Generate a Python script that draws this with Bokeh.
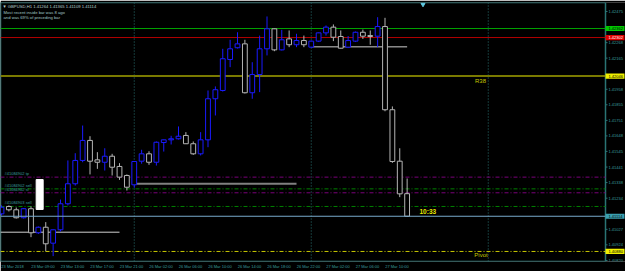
from bokeh.plotting import figure
from bokeh.models import Range1d, FixedTicker, CustomJSTickFormatter, Span
from bokeh.core.properties import value
from bokeh.embed import file_html
from bokeh.resources import INLINE

# ---------------- data ----------------
header = "\u25bc GBPUSD,H1  1.41264 1.41365 1.41109 1.41114"
info_lines = ["Most recent inside bar was 8 ago", "and was 69% of preceding bar"]

opens = [1.41130, 1.41179, 1.41157, 1.41104, 1.41164, 1.41004, 1.41041, 1.40935, 1.41024, 1.41197,
         1.41330, 1.41485, 1.41618, 1.41489, 1.41473, 1.41513, 1.41445, 1.41385, 1.41323, 1.41480,
         1.41529, 1.41473, 1.41604, 1.41622, 1.41629, 1.41651, 1.41596, 1.41529, 1.41622, 1.41895,
         1.41950, 1.42156, 1.42234, 1.42260, 1.41935, 1.42056, 1.42227, 1.42360, 1.42220, 1.42293,
         1.42254, 1.42282, 1.42238, 1.42278, 1.42333, 1.42371, 1.42309, 1.42238, 1.42278, 1.42337,
         1.42315, 1.42311, 1.42375, 1.41822, 1.41480, 1.41264]
highs = [1.41186, 1.41186, 1.41172, 1.41169, 1.41179, 1.41046, 1.41075, 1.41026, 1.41225, 1.41485,
         1.41533, 1.41717, 1.41646, 1.41540, 1.41566, 1.41529, 1.41467, 1.41392, 1.41478, 1.41556,
         1.41546, 1.41611, 1.41624, 1.41649, 1.41711, 1.41673, 1.41611, 1.41673, 1.41950, 1.41977,
         1.42227, 1.42287, 1.42337, 1.42287, 1.42138, 1.42315, 1.42442, 1.42362, 1.42353, 1.42349,
         1.42327, 1.42315, 1.42282, 1.42335, 1.42382, 1.42389, 1.42349, 1.42312, 1.42342, 1.42355,
         1.42349, 1.42437, 1.42433, 1.41844, 1.41566, 1.41365]
lows = [1.41119, 1.41146, 1.41099, 1.41099, 1.40975, 1.40996, 1.40882, 1.40849, 1.41013, 1.41186,
        1.41318, 1.41473, 1.41392, 1.41429, 1.41418, 1.41385, 1.41356, 1.41285, 1.41303, 1.41463,
        1.41456, 1.41451, 1.41544, 1.41591, 1.41624, 1.41594, 1.41522, 1.41518, 1.41573, 1.41784,
        1.41943, 1.42105, 1.42229, 1.41930, 1.41895, 1.41939, 1.42183, 1.42211, 1.42216, 1.42238,
        1.42238, 1.42238, 1.42232, 1.42272, 1.42315, 1.42278, 1.42229, 1.42232, 1.42272, 1.42293,
        1.42254, 1.42238, 1.41812, 1.41469, 1.41241, 1.41109]
closes = [1.41174, 1.41157, 1.41104, 1.41164, 1.41004, 1.41041, 1.40931, 1.41024, 1.41197, 1.41330,
          1.41485, 1.41618, 1.41480, 1.41473, 1.41513, 1.41440, 1.41374, 1.41307, 1.41478, 1.41529,
          1.41473, 1.41606, 1.41622, 1.41629, 1.41646, 1.41596, 1.41529, 1.41622, 1.41895, 1.41955,
          1.42161, 1.42227, 1.42260, 1.41935, 1.42056, 1.42227, 1.42360, 1.42220, 1.42287, 1.42254,
          1.42282, 1.42254, 1.42278, 1.42333, 1.42371, 1.42304, 1.42231, 1.42282, 1.42337, 1.42311,
          1.42309, 1.42375, 1.41822, 1.41478, 1.41263, 1.41114]

time_label_bars = [0, 4, 8, 12, 16, 20, 24, 28, 32, 36, 40, 44, 48, 52]
time_labels = ["23 Mar 2018", "23 Mar 09:00", "23 Mar 13:00", "23 Mar 17:00", "23 Mar 21:00",
               "26 Mar 02:00", "26 Mar 06:00", "26 Mar 10:00", "26 Mar 14:00", "26 Mar 18:00",
               "26 Mar 22:00", "27 Mar 02:00", "27 Mar 06:00", "27 Mar 10:00"]
day_separator_bars = [18, 42, 66]

price_ticks = [1.42475, 1.42268, 1.42165, 1.41958, 1.41855, 1.41751, 1.41648, 1.41545,
               1.41441, 1.41338, 1.41234, 1.41027, 1.40924, 1.40820]

green_level = 1.42362
red_level = 1.42302
r38_level = 1.42046
bid_level = 1.41114
pivot_level = 1.40880

order_levels = [1.41374, 1.41296, 1.41270, 1.41179]
order_texts = ["#41084902 tp", "#41084902 sell", "#41084902 sl", "#41084903 sell"]
order_kinds = ["stop", "open", "stop", "open"]

day_open_levels = [1.41008, 1.41330, 1.42240]
day_open_from = [-0.14, 18.0, 42.0]
day_open_to = [16.0, 40.0, 55.0]

marker_box_bars = [4.7, 5.65]
marker_box_prices = [1.41159, 1.41358]

timer_text = "10:33"

# ---------------- styling / layout ----------------
BG = "black"
FRAME = "#2a7474"
TXT = "#3a9e9e"
BULL = "#1a1aff"
BEAR = "#b4b4b4"
PX_PER_BAR = 7.375
PRICE_PER_PX = 0.00006647
REF_PRICE, REF_PY = 1.42475, 11.0
FONT = "Liberation Sans"
AXIS_PX = 605


def py_to_price(py):
    return REF_PRICE - (py - REF_PY) * PRICE_PER_PX


def px_to_bar(px):
    return (px - 1.0) / PX_PER_BAR


X0, XA = px_to_bar(0), px_to_bar(AXIS_PX)
Y_BOT, Y_TOP = py_to_price(261), py_to_price(2)

p = figure(width=625, height=271, output_backend="svg", toolbar_location=None,
           x_range=Range1d(X0, px_to_bar(625)),
           y_range=Range1d(Y_BOT, Y_TOP),
           y_axis_location=None,
           min_border_left=0, min_border_right=0, min_border_top=2, min_border_bottom=10,
           background_fill_color=BG, border_fill_color=BG, outline_line_color=None)
p.grid.visible = False

# bottom time axis (labels start at the bar, MT4 style)
label_shift = [len(t) * 2.07 / 2 / PX_PER_BAR for t in time_labels]
tick_pos = [round((b + s) * 8) / 8 for b, s in zip(time_label_bars, label_shift)]
xa = p.xaxis[0]
xa.ticker = FixedTicker(ticks=tick_pos)
xa.formatter = CustomJSTickFormatter(args=dict(tks=tick_pos, names=time_labels), code="""
const i = tks.findIndex(t => Math.abs(t - tick) < 1e-6);
return i >= 0 ? names[i] : "";
""")
xa.axis_line_color = None
xa.major_tick_out = 0
xa.major_tick_in = 0
xa.minor_tick_out = 0
xa.minor_tick_in = 0
xa.major_label_standoff = 2
xa.major_label_text_color = TXT
xa.major_label_text_font_size = "4px"
xa.major_label_text_font = FONT

# chart frame (MT4 window border) and price scale line
p.segment(x0=[X0, X0, X0, XA], y0=[Y_TOP, Y_BOT, Y_BOT, Y_BOT],
          x1=[XA, XA, X0, XA], y1=[Y_TOP, Y_BOT, Y_TOP, Y_TOP], line_color=FRAME, line_width=1.5)

# day separators
p.segment(x0=day_separator_bars, y0=[Y_BOT] * len(day_separator_bars), x1=day_separator_bars,
          y1=[Y_TOP] * len(day_separator_bars), line_color=FRAME, line_width=1, line_dash="1 2")


def hline(level, color, width=1, dash="solid"):
    p.segment(x0=[X0], y0=[level], x1=[XA], y1=[level], line_color=color, line_width=width, line_dash=dash)


hline(green_level, "#00a000")
hline(red_level, "#b00000")
hline(r38_level, "#7a7a00", 2)
hline(pivot_level, "#c8c800", 1, "4 2 1 2")
for lvl, kind in zip(order_levels, order_kinds):
    hline(lvl, "#7a007a" if kind == "stop" else "#008000", 1, "4 2 1 2")

# daily open lines
for lvl, a, b in zip(day_open_levels, day_open_from, day_open_to):
    w = 2 if a > 10 and b < 50 else 1
    col = "#808080" if w == 2 else "#d0d0d0"
    p.segment(x0=[a], y0=[lvl], x1=[b], y1=[lvl], line_color=col, line_width=w)

# marker box
p.quad(left=[marker_box_bars[0]], right=[marker_box_bars[1]], bottom=[marker_box_prices[0]],
       top=[marker_box_prices[1]], fill_color="white", line_color="white")

# candles
idx = list(range(len(opens)))
cols = [BULL if c >= o else BEAR for o, c in zip(opens, closes)]
p.segment(x0=idx, y0=lows, x1=idx, y1=highs, line_color=cols, line_width=1)
p.vbar(x=idx, width=0.65, top=[max(o, c) for o, c in zip(opens, closes)],
       bottom=[min(o, c) for o, c in zip(opens, closes)], fill_color=BG, line_color=cols, line_width=1)

# bid line
hline(bid_level, "#78aacc")

# order texts
for lvl, t in zip(order_levels, order_texts):
    p.text(x=[px_to_bar(4)], y=[lvl + 1.0 * PRICE_PER_PX], text=[t], text_color=TXT,
           text_font=value(FONT), text_font_size="4px", text_baseline="bottom", text_align="left")

# header texts
p.text(x=[px_to_bar(2)], y=[py_to_price(6)], text=[header], text_color="#b8d0d0",
       text_font=value(FONT), text_font_size="4.2px", text_baseline="middle", text_align="left")
for i, t in enumerate(info_lines):
    p.text(x=[px_to_bar(3)], y=[py_to_price(11.7 + 5 * i)], text=[t], text_color="#a0c8c8",
           text_font=value(FONT), text_font_size="4.2px", text_baseline="middle", text_align="left")

# level names
p.text(x=[px_to_bar(480)], y=[r38_level - 1.5 * PRICE_PER_PX], text=["R38"], text_color="#c8c800",
       text_font=value(FONT), text_font_size="6px", text_baseline="top", text_align="center")
p.text(x=[px_to_bar(480.5)], y=[pivot_level - 1.0 * PRICE_PER_PX], text=["Pivot"], text_color="#c8c800",
       text_font=value(FONT), text_font_size="6px", text_baseline="top", text_align="center")
p.text(x=[px_to_bar(419)], y=[bid_level + 1.5 * PRICE_PER_PX], text=[timer_text], text_color="#e8e800",
       text_font=value(FONT), text_font_size="6.5px", text_font_style="bold", text_baseline="bottom",
       text_align="left")

# chart shift marker
p.scatter(x=[px_to_bar(422.5)], y=[py_to_price(4)], marker="inverted_triangle", size=4,
          fill_color="#60c8e0", line_color="#60c8e0")

# price scale: ticks and labels
n = len(price_ticks)
p.segment(x0=[XA] * n, y0=price_ticks, x1=[px_to_bar(AXIS_PX + 2)] * n, y1=price_ticks,
          line_color=FRAME, line_width=1)
p.text(x=[px_to_bar(AXIS_PX + 3)] * n, y=price_ticks, text=[f"{t:.5f}" for t in price_ticks],
       text_color=TXT, text_font=value(FONT), text_font_size="4px", text_baseline="middle",
       text_align="left")

# price tags on the scale
tag_levels = [green_level, red_level, r38_level, bid_level, pivot_level]
tag_fill = ["#00c800", "#e00000", "#f0f000", "#3aa0b0", "#f0f000"]
tag_text = ["black", "white", "black", "black", "black"]
half = 2.6 * PRICE_PER_PX
p.quad(left=[XA] * 5, right=[px_to_bar(624)] * 5, bottom=[v - half for v in tag_levels],
       top=[v + half for v in tag_levels], fill_color=tag_fill, line_color=None)
p.text(x=[px_to_bar(AXIS_PX + 3)] * 5, y=tag_levels, text=[f"{v:.5f}" for v in tag_levels],
       text_color=tag_text, text_font=value(FONT), text_font_size="4px", text_baseline="middle",
       text_align="left")

open("out.html", "w").write(file_html(p, INLINE))
